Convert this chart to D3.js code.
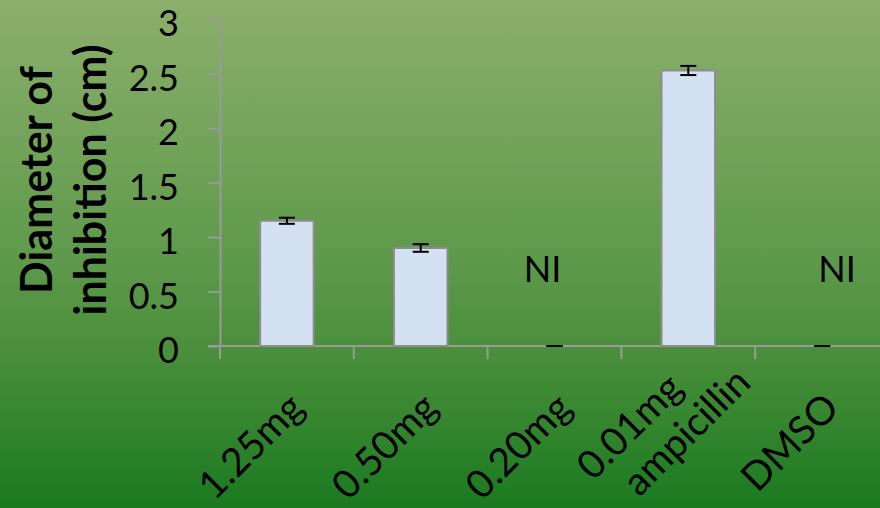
<!DOCTYPE html>
<html>
<head>
<meta charset="utf-8">
<script src="https://cdn.jsdelivr.net/npm/d3@7"></script>
<style>
html,body{margin:0;padding:0;}
svg{display:block;}
text{font-family:Lato, "Open Sans", sans-serif;}
</style>
</head>
<body>
<svg id="chart" width="880" height="508"></svg>
<script>
// ---- data ----
const categories = ["1.25mg", "0.50mg", "0.20mg", "0.01mg\nampicillin", "DMSO"];
const values = [1.15, 0.90, 0, 2.53, 0];
const errors = [0.028, 0.035, 0, 0.042, 0];
const noteLabels = ["", "", "NI", "", "NI"];
const noteShift = [0, 0, -12, 0, 15];
const yTicks = [0, 0.5, 1, 1.5, 2, 2.5, 3];
const yTitle = ["Diameter of", "inhibition (cm)"];

(function () {
const W = 880, H = 508;
const svg = d3.select("#chart");

// background gradient
const defs = svg.append("defs");
const grad = defs.append("linearGradient").attr("id", "bg")
  .attr("x1", 0).attr("y1", 0).attr("x2", 0).attr("y2", 1);
[[0, "#8caf6c"], [0.5, "#5f9a4c"], [0.7, "#498e3b"], [1, "#1a7a1f"]]
  .forEach(([o, c]) => grad.append("stop").attr("offset", o).attr("stop-color", c));
svg.append("rect").attr("width", W).attr("height", H).attr("fill", "url(#bg)");

const mLeft = 220, mRight = 889, mTop = 19.3, mBottom = 346;
const x = d3.scaleBand().domain(categories).range([mLeft, mRight]).padding(0);
const y = d3.scaleLinear().domain([0, 3]).range([mBottom, mTop]);
const bw = x.bandwidth();
const axisColor = "#9a9a9a";

// y axis
const yAxis = svg.append("g").attr("transform", `translate(${mLeft},0)`)
  .call(d3.axisLeft(y).tickValues(yTicks).tickFormat(d3.format("~g"))
    .tickSize(12).tickPadding(29).tickSizeOuter(0));
yAxis.select(".domain").attr("stroke", axisColor).attr("stroke-width", 2);
yAxis.selectAll(".tick line").attr("stroke", axisColor).attr("stroke-width", 2);
yAxis.selectAll(".tick text").attr("font-size", 36).attr("fill", "#000")
  .attr("dy", "0.46em").style("font-family", "Lato");

// x axis line and ticks
const xg = svg.append("g");
xg.append("line").attr("x1", mLeft - 12).attr("x2", W).attr("y1", mBottom).attr("y2", mBottom)
  .attr("stroke", axisColor).attr("stroke-width", 2);
const bounds = categories.map(c => x(c)).concat([x(categories[categories.length - 1]) + bw]);
xg.selectAll("line.xt").data(bounds).join("line").attr("class", "xt")
  .attr("x1", d => d).attr("x2", d => d).attr("y1", mBottom).attr("y2", mBottom + 13)
  .attr("stroke", axisColor).attr("stroke-width", 2);

// bars
const barW = bw * 0.4;
svg.selectAll("rect.bar").data(categories.map((c, i) => ({c, v: values[i]})).filter(d => d.v > 0))
  .join("rect").attr("class", "bar")
  .attr("x", d => x(d.c) + bw / 2 - barW / 2).attr("width", barW)
  .attr("y", d => y(d.v)).attr("height", d => y(0) - y(d.v))
  .attr("fill", "#d3e1f3").attr("stroke", "#8d8d8d").attr("stroke-width", 2);

// error bars
const capW = bw * 0.06;
const eg = svg.append("g").attr("stroke", "#000").attr("stroke-width", 2);
categories.forEach((c, i) => {
  const cx = x(c) + bw / 2;
  const y1 = y(values[i] + errors[i]), y2 = y(values[i] - errors[i]);
  eg.append("line").attr("x1", cx).attr("x2", cx).attr("y1", y1).attr("y2", y2);
  eg.append("line").attr("x1", cx - capW).attr("x2", cx + capW).attr("y1", y1).attr("y2", y1);
  eg.append("line").attr("x1", cx - capW).attr("x2", cx + capW).attr("y1", y2).attr("y2", y2);
});

// NI notes
categories.forEach((c, i) => {
  if (!noteLabels[i]) return;
  svg.append("text").attr("x", x(c) + bw / 2 + noteShift[i]).attr("y", y(0.5) - 10)
    .attr("text-anchor", "middle").attr("font-size", 36).attr("fill", "#000")
    .text(noteLabels[i]);
});

// x labels (rotated)
const fs = 39;
categories.forEach((c, i) => {
  const cx = x(c) + bw / 2;
  const g = svg.append("g").attr("transform", `translate(${cx + 19},${mBottom + 64}) rotate(-45)`);
  const lines = c.split("\n");
  if (lines.length === 1) {
    g.append("text").attr("text-anchor", "end").attr("font-size", fs).attr("fill", "#000").text(lines[0]);
  } else {
    g.append("text").attr("text-anchor", "end").attr("font-size", fs).attr("fill", "#000")
      .attr("x", -2).attr("y", -30).text(lines[0]);
    g.append("text").attr("text-anchor", "end").attr("font-size", fs).attr("fill", "#000")
      .attr("x", 50).attr("y", 14).text(lines[1]);
  }
});

// y title
yTitle.forEach((t, i) => {
  svg.append("text").attr("transform", `translate(${52 + i * 54},180) rotate(-90)`)
    .attr("text-anchor", "middle").attr("font-size", 43).attr("font-weight", "bold")
    .attr("fill", "#000").text(t);
});
})();
</script>
</body>
</html>
